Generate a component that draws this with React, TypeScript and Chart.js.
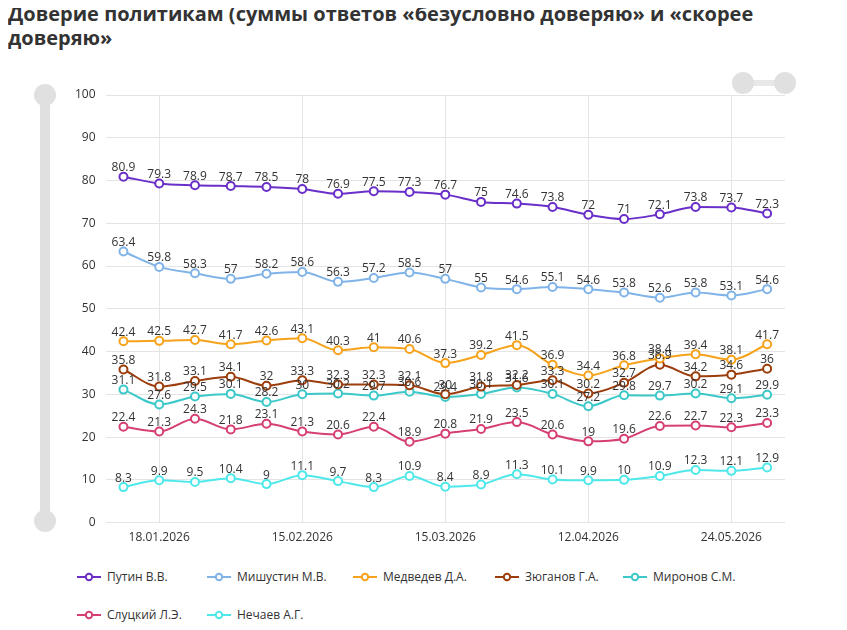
import React, { useEffect, useRef } from "react";
import { Chart, registerables } from "chart.js";
Chart.register(...registerables);

const dates = ["11.01.2026","18.01.2026","25.01.2026","01.02.2026","08.02.2026","15.02.2026","22.02.2026","01.03.2026","08.03.2026","15.03.2026","22.03.2026","29.03.2026","05.04.2026","12.04.2026","19.04.2026","26.04.2026","17.05.2026","24.05.2026","31.05.2026"];
const shownTicks = ["18.01.2026","15.02.2026","15.03.2026","12.04.2026","24.05.2026"];
const putin = [80.9,79.3,78.9,78.7,78.5,78,76.9,77.5,77.3,76.7,75,74.6,73.8,72,71,72.1,73.8,73.7,72.3];
const mishustin = [63.4,59.8,58.3,57,58.2,58.6,56.3,57.2,58.5,57,55,54.6,55.1,54.6,53.8,52.6,53.8,53.1,54.6];
const medvedev = [42.4,42.5,42.7,41.7,42.6,43.1,40.3,41,40.6,37.3,39.2,41.5,36.9,34.4,36.8,38.4,39.4,38.1,41.7];
const zyuganov = [35.8,31.8,33.1,34.1,32,33.3,32.3,32.3,32.1,30,31.8,32.2,33.3,30.2,32.7,36.9,34.2,34.6,36];
const mironov = [31.1,27.6,29.5,30.1,28.2,30,30.2,29.7,30.6,29.4,30.1,31.6,30.1,27.2,29.8,29.7,30.2,29.1,29.9];
const slutsky = [22.4,21.3,24.3,21.8,23.1,21.3,20.6,22.4,18.9,20.8,21.9,23.5,20.6,19,19.6,22.6,22.7,22.3,23.3];
const nechaev = [8.3,9.9,9.5,10.4,9,11.1,9.7,8.3,10.9,8.4,8.9,11.3,10.1,9.9,10,10.9,12.3,12.1,12.9];
const names = ["Путин В.В.","Мишустин М.В.","Медведев Д.А.","Зюганов Г.А.","Миронов С.М.","Слуцкий Л.Э.","Нечаев А.Г."];
const colors = ["#6a2fc8","#80b4e8","#f7a21b","#9c3d0c","#3cc8c8","#d63f73","#4ee8ea"];
const series = [putin,mishustin,medvedev,zyuganov,mironov,slutsky,nechaev];
const legendX = [77, 207, 353, 495, 623, 77, 207];
const legendY = [568, 568, 568, 568, 568, 606, 606];

const labelPlugin = {
  id: "vals",
  afterDatasetsDraw(chart: any) {
    const ctx = chart.ctx;
    ctx.save();
    ctx.font = "12px 'Open Sans', sans-serif";
    ctx.fillStyle = "#333";
    ctx.textAlign = "center";
    ctx.textBaseline = "bottom";
    chart.data.datasets.forEach((ds: any, i: number) => {
      chart.getDatasetMeta(i).data.forEach((pt: any, j: number) => {
        ctx.fillText(String(ds.data[j]), pt.x, pt.y - 3);
      });
    });
    ctx.restore();
  },
};

function LegendItem({ i }: { i: number }) {
  return (
    <div style={{ position: "absolute", left: legendX[i], top: legendY[i], display: "flex", alignItems: "center", fontSize: 12, color: "#333", whiteSpace: "nowrap" }}>
      <svg width="24" height="10" style={{ marginRight: 6 }}>
        <line x1="0" y1="5" x2="24" y2="5" stroke={colors[i]} strokeWidth="2" />
        <circle cx="12" cy="5" r="3.2" fill="#fff" stroke={colors[i]} strokeWidth="2" />
      </svg>
      {names[i]}
    </div>
  );
}

export default function App() {
  const ref = useRef<HTMLCanvasElement>(null);
  useEffect(() => {
    const chart = new Chart(ref.current!, {
      type: "line",
      data: {
        labels: dates,
        datasets: series.map((d, i) => ({
          label: names[i],
          data: d,
          borderColor: colors[i],
          backgroundColor: "#fff",
          borderWidth: 2,
          pointRadius: 4,
          pointBorderWidth: 2,
          pointBackgroundColor: "#fff",
          tension: 0.4,
          cubicInterpolationMode: "monotone" as const,
        })),
      },
      options: {
        animation: false,
        responsive: false,
        layout: { padding: { left: 15, right: 12, top: 25, bottom: 0 } },
        plugins: { legend: { display: false }, tooltip: { enabled: false } },
        scales: {
          x: {
            offset: true,
            grid: { color: (c: any) => shownTicks.includes(dates[c.index]) ? "#e4e4e4" : "rgba(0,0,0,0)", drawTicks: false },
            border: { display: false },
            ticks: {
              autoSkip: false, maxRotation: 0, color: "#333", padding: 8,
              font: { size: 12, family: "'Open Sans', sans-serif" },
              callback: (_v: any, i: number) => shownTicks.includes(dates[i]) ? dates[i] : "",
            },
          },
          y: {
            min: 0, max: 100,
            ticks: { stepSize: 10, color: "#333", font: { size: 12, family: "'Open Sans', sans-serif" }, padding: 10 },
            grid: { color: "#e4e4e4", drawTicks: false },
            border: { display: false },
          },
        },
      },
      plugins: [labelPlugin],
    } as any);
    return () => chart.destroy();
  }, []);
  return (
    <div style={{ fontFamily: "'Open Sans', sans-serif", position: "relative", width: 831, margin: "-8px 0 0 -8px", background: "#fff", height: 630 }}>
      <div style={{ fontSize: 20, fontWeight: 700, color: "#333", lineHeight: "24px", padding: "2px 0 0 8px", width: 800 }}>
        Доверие политикам (суммы ответов «безусловно доверяю» и «скорее доверяю»
      </div>
      <div style={{ position: "absolute", left: 40, top: 86, width: 10, height: 436, background: "#e0e0e0", borderRadius: 5 }} />
      <div style={{ position: "absolute", left: 34, top: 84, width: 22, height: 22, background: "#e0e0e0", borderRadius: 11 }} />
      <div style={{ position: "absolute", left: 34, top: 510, width: 22, height: 22, background: "#e0e0e0", borderRadius: 11 }} />
      <div style={{ position: "absolute", left: 744, top: 80, width: 40, height: 6, background: "#e8e8e8" }} />
      <div style={{ position: "absolute", left: 732, top: 72, width: 22, height: 22, background: "#e0e0e0", borderRadius: 11 }} />
      <div style={{ position: "absolute", left: 774, top: 72, width: 22, height: 22, background: "#e0e0e0", borderRadius: 11 }} />
      <canvas ref={ref} width={747} height={483} style={{ position: "absolute", left: 50, top: 70 }} />
      {names.map((_, i) => <LegendItem key={i} i={i} />)}
    </div>
  );
}
